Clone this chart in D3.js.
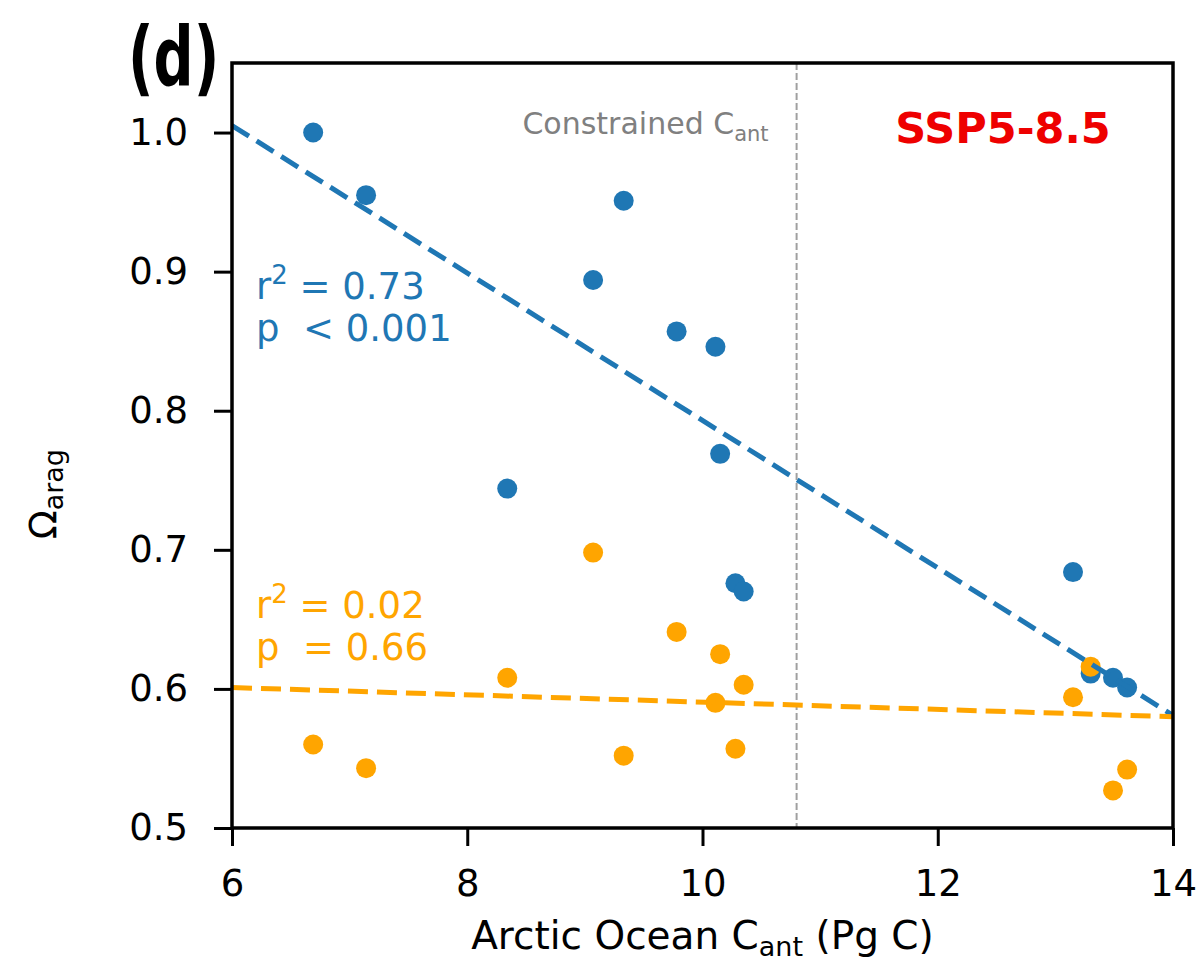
<!DOCTYPE html>
<html>
<head>
<meta charset="utf-8">
<script src="https://cdn.jsdelivr.net/npm/d3@7"></script>
<style>
  body { margin: 0; background: #fff; }
  text { font-family: "DejaVu Sans", sans-serif; }
</style>
</head>
<body>
<script>
// model values
var cant = [6.69, 7.14, 8.34, 9.07, 9.33, 9.78, 10.11, 10.15, 10.28, 10.35, 13.15, 13.30, 13.49, 13.61];
var omegaA = [1.000, 0.955, 0.744, 0.894, 0.951, 0.857, 0.846, 0.769, 0.676, 0.670, 0.684, 0.611, 0.608, 0.601];
var omegaB = [0.560, 0.543, 0.608, 0.698, 0.552, 0.641, 0.590, 0.625, 0.557, 0.603, 0.594, 0.616, 0.527, 0.542];

// fitted lines (end points)
var fitA = [[6, 1.005], [14, 0.581]];
var fitB = [[6, 0.601], [14, 0.580]];

var constrained = 10.80;
var xTicks = [6, 8, 10, 12, 14];
var yTicks = [0.5, 0.6, 0.7, 0.8, 0.9, 1.0];

var blue = "#1f77b4", orange = "#ffa500";

var margin = {top: 63, right: 29, bottom: 146, left: 232},
    width = 1202 - margin.left - margin.right,
    height = 974 - margin.top - margin.bottom;

var x = d3.scaleLinear().domain([6, 14]).range([0, width]);
var y = d3.scaleLinear().domain([0.5, 1.05]).range([height, 0]);

var svg = d3.select("body").append("svg")
    .attr("width", 1202)
    .attr("height", 974)
  .append("g")
    .attr("transform", "translate(" + margin.left + "," + margin.top + ")");

// constrained line
svg.append("line")
    .attr("x1", x(constrained)).attr("x2", x(constrained))
    .attr("y1", 0).attr("y2", height)
    .style("stroke", "#a0a0a0")
    .style("stroke-width", 2)
    .style("stroke-dasharray", "7,3");

var pts = cant.map(function(c, i) { return {x: c, a: omegaA[i], b: omegaB[i]}; });

svg.selectAll("circle.a")
    .data(pts)
  .enter().append("circle")
    .attr("class", "a")
    .attr("r", 10)
    .attr("cx", function(d) { return x(d.x); })
    .attr("cy", function(d) { return y(d.a); })
    .style("fill", blue);

svg.selectAll("circle.b")
    .data(pts)
  .enter().append("circle")
    .attr("class", "b")
    .attr("r", 10)
    .attr("cx", function(d) { return x(d.x); })
    .attr("cy", function(d) { return y(d.b); })
    .style("fill", orange);

var line = d3.line()
    .x(function(d) { return x(d[0]); })
    .y(function(d) { return y(d[1]); });

svg.append("path")
    .datum(fitA)
    .attr("fill", "none")
    .style("stroke", blue)
    .style("stroke-width", 5)
    .style("stroke-dasharray", "20,9")
    .attr("d", line);

svg.append("path")
    .datum(fitB)
    .attr("fill", "none")
    .style("stroke", orange)
    .style("stroke-width", 5)
    .style("stroke-dasharray", "20,9")
    .attr("d", line);

// axes
var xAxis = svg.append("g")
    .attr("transform", "translate(0," + height + ")")
    .call(d3.axisBottom(x).tickValues(xTicks).tickSize(18).tickPadding(24)
          .tickFormat(d3.format("d")));

var yAxis = svg.append("g")
    .call(d3.axisLeft(y).tickValues(yTicks).tickSize(18).tickPadding(26)
          .tickFormat(d3.format(".1f")));

[xAxis, yAxis].forEach(function(g) {
  g.select(".domain").remove();
  g.selectAll("line").style("stroke", "#000").style("stroke-width", 3);
  g.selectAll("text")
      .style("font-family", "DejaVu Sans, sans-serif")
      .style("font-size", "37px")
      .style("fill", "#000");
});

// frame
svg.append("rect")
    .attr("width", width)
    .attr("height", height)
    .attr("fill", "none")
    .style("stroke", "#000")
    .style("stroke-width", 3.5);

// texts
function sub(t, main, s, size) {
  t.append("tspan").text(main);
  t.append("tspan")
      .attr("baseline-shift", "-7px")
      .style("font-size", size)
      .text(s);
}

var ct = svg.append("text")
    .attr("x", x(constrained) - 28)
    .attr("y", 71)
    .attr("text-anchor", "end")
    .style("font-size", "30px")
    .style("fill", "#808080");
sub(ct, "Constrained C", "ant", "21px");

svg.append("text")
    .attr("x", 771)
    .attr("y", 80)
    .attr("text-anchor", "middle")
    .style("font-size", "43px")
    .style("font-weight", "bold")
    .style("fill", "#ee0000")
    .text("SSP5-8.5");

function stats(r2, p, color, yTop) {
  var t1 = svg.append("text")
      .attr("x", 24).attr("y", yTop)
      .style("font-size", "37px")
      .style("fill", color);
  t1.append("tspan").text("r");
  t1.append("tspan").attr("baseline-shift", "super").style("font-size", "26px").text("2");
  t1.append("tspan").text(" = " + r2);
  svg.append("text")
      .attr("x", 24).attr("y", yTop + 42)
      .style("font-size", "37px")
      .style("fill", color)
      .attr("xml:space", "preserve")
      .text("p  " + p);
}
stats("0.73", "< 0.001", blue, 236);
stats("0.02", "= 0.66", orange, 555);

var xl = svg.append("text")
    .attr("x", width / 2)
    .attr("y", height + 121)
    .attr("text-anchor", "middle")
    .style("font-size", "39px");
sub(xl, "Arctic Ocean C", "ant", "27px");
xl.append("tspan").text(" (Pg C)");

var yl = svg.append("text")
    .attr("transform", "translate(" + (-176) + "," + (y(0.74)) + ") rotate(-90)")
    .attr("text-anchor", "middle")
    .style("font-size", "38px");
sub(yl, "\u03A9", "arag", "27px");

svg.append("text")
    .attr("transform", "translate(-104,22) scale(1,1.45)")
    .style("font-size", "56px")
    .style("font-weight", "bold")
    .text("(d)");
</script>
</body>
</html>
